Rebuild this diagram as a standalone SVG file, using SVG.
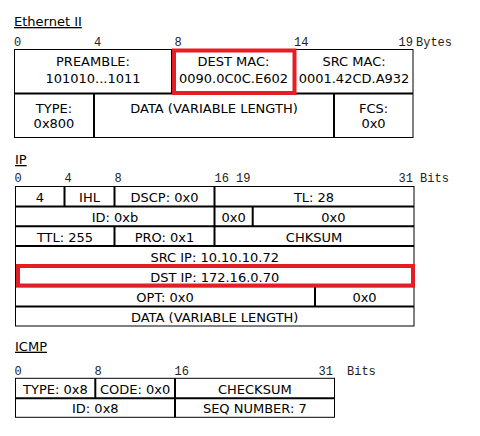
<svg xmlns="http://www.w3.org/2000/svg" width="480" height="436" viewBox="0 0 480 436">
<style>
.t{font-family:"DejaVu Sans","Verdana",sans-serif;font-size:13px;fill:#000;text-anchor:middle}
.h{font-family:"DejaVu Sans","Verdana",sans-serif;font-size:13px;fill:#000;text-decoration:underline}
.k{font-family:"Liberation Mono","Courier New",monospace;font-size:12px;fill:#222}
.box{fill:#fff;stroke:#000;stroke-width:1}
.ln{stroke:#000;stroke-width:2;fill:none}
.hl{fill:none;stroke:#e31e24;stroke-width:4}
</style>
<rect width="480" height="436" fill="#fff"/>

<!-- Ethernet II -->
<text class="h" x="14" y="26">Ethernet II</text>
<g id="eth-ticks">
<text class="k" x="14" y="45.5">0</text>
<text class="k" x="94" y="45.5">4</text>
<text class="k" x="174.5" y="45.5">8</text>
<text class="k" x="294" y="45.5">14</text>
<text class="k" x="398.5" y="45.5">19</text>
<text class="k" x="416" y="45.5">Bytes</text>
</g>
<rect class="box" x="14.5" y="49.5" width="398.5" height="88"/>
<g id="eth-lines">
<line class="ln" x1="14.5" y1="93.5" x2="413" y2="93.5"/>
<line class="ln" x1="172" y1="49.5" x2="172" y2="93.5"/>
<line class="ln" x1="295" y1="49.5" x2="295" y2="93.5"/>
<line class="ln" x1="94" y1="93.5" x2="94" y2="137.5"/>
<line class="ln" x1="334" y1="93.5" x2="334" y2="137.5"/>
</g>
<g id="eth-preamble"><text class="t" x="93" y="66">PREAMBLE:</text><text class="t" x="93" y="83">101010...1011</text></g>
<g id="eth-destmac"><text class="t" x="233.5" y="66">DEST MAC:</text><text class="t" x="233.5" y="83">0090.0C0C.E602</text></g>
<g id="eth-srcmac"><text class="t" x="354" y="66">SRC MAC:</text><text class="t" x="354" y="83">0001.42CD.A932</text></g>
<g id="eth-type"><text class="t" x="54" y="113">TYPE:</text><text class="t" x="54" y="128">0x800</text></g>
<g id="eth-data"><text class="t" x="214" y="113">DATA (VARIABLE LENGTH)</text></g>
<g id="eth-fcs"><text class="t" x="373.5" y="113">FCS:</text><text class="t" x="373.5" y="128">0x0</text></g>
<rect id="hl-destmac" class="hl" x="174" y="50.5" width="120.5" height="42.5"/>

<!-- IP -->
<text class="h" x="15" y="164">IP</text>
<g id="ip-ticks">
<text class="k" x="14.5" y="181.5">0</text>
<text class="k" x="64.5" y="181.5">4</text>
<text class="k" x="114.5" y="181.5">8</text>
<text class="k" x="214.5" y="181.5">16 19</text>
<text class="k" x="398.5" y="181.5">31 Bits</text>
</g>
<rect class="box" x="15.5" y="186.5" width="398.5" height="139.5"/>
<g id="ip-lines">
<line class="ln" x1="15.5" y1="206.5" x2="414" y2="206.5"/>
<line class="ln" x1="15.5" y1="226.2" x2="414" y2="226.2"/>
<line class="ln" x1="15.5" y1="246" x2="414" y2="246"/>
<line class="ln" x1="15.5" y1="266" x2="414" y2="266"/>
<line class="ln" x1="15.5" y1="286.3" x2="414" y2="286.3"/>
<line class="ln" x1="15.5" y1="306.5" x2="414" y2="306.5"/>
<line class="ln" x1="64.5" y1="186.5" x2="64.5" y2="206.5"/>
<line class="ln" x1="114.5" y1="186.5" x2="114.5" y2="206.5"/>
<line class="ln" x1="214.5" y1="186.5" x2="214.5" y2="246"/>
<line class="ln" x1="252.7" y1="206.5" x2="252.7" y2="226.2"/>
<line class="ln" x1="114.5" y1="226.2" x2="114.5" y2="246"/>
<line class="ln" x1="315" y1="286.3" x2="315" y2="306.5"/>
</g>
<g id="ip-ver"><text class="t" x="40" y="202">4</text></g>
<g id="ip-ihl"><text class="t" x="89.5" y="202">IHL</text></g>
<g id="ip-dscp"><text class="t" x="164.5" y="202">DSCP: 0x0</text></g>
<g id="ip-tl"><text class="t" x="314" y="202">TL: 28</text></g>
<g id="ip-id"><text class="t" x="115" y="221.8">ID: 0xb</text></g>
<g id="ip-flags"><text class="t" x="233.6" y="221.8">0x0</text></g>
<g id="ip-frag"><text class="t" x="333.3" y="221.8">0x0</text></g>
<g id="ip-ttl"><text class="t" x="65" y="241.5">TTL: 255</text></g>
<g id="ip-pro"><text class="t" x="164.5" y="241.5">PRO: 0x1</text></g>
<g id="ip-chksum"><text class="t" x="314" y="241.5">CHKSUM</text></g>
<g id="ip-src"><text class="t" x="214.7" y="261.5">SRC IP: 10.10.10.72</text></g>
<g id="ip-dst"><text class="t" x="214.7" y="281.5">DST IP: 172.16.0.70</text></g>
<g id="ip-opt"><text class="t" x="165" y="301.8">OPT: 0x0</text></g>
<g id="ip-pad"><text class="t" x="364.5" y="301.8">0x0</text></g>
<g id="ip-data"><text class="t" x="214.7" y="321.5">DATA (VARIABLE LENGTH)</text></g>
<rect id="hl-dstip" class="hl" x="18" y="266" width="395" height="19.5"/>

<!-- ICMP -->
<text class="h" x="15" y="350.7">ICMP</text>
<g id="icmp-ticks">
<text class="k" x="14.5" y="374.5">0</text>
<text class="k" x="94.5" y="374.5">8</text>
<text class="k" x="174.5" y="374.5">16</text>
<text class="k" x="318.5" y="374.5">31</text>
<text class="k" x="347" y="374.5">Bits</text>
</g>
<rect class="box" x="15.5" y="378.3" width="319" height="39"/>
<g id="icmp-lines">
<line class="ln" x1="15.5" y1="398.3" x2="334.5" y2="398.3"/>
<line class="ln" x1="95.3" y1="378.3" x2="95.3" y2="398.3"/>
<line class="ln" x1="175" y1="378.3" x2="175" y2="417.3"/>
</g>
<g id="icmp-type"><text class="t" x="55.4" y="394">TYPE: 0x8</text></g>
<g id="icmp-code"><text class="t" x="135.2" y="394">CODE: 0x0</text></g>
<g id="icmp-checksum"><text class="t" x="254.8" y="394">CHECKSUM</text></g>
<g id="icmp-id"><text class="t" x="95.3" y="413.3">ID: 0x8</text></g>
<g id="icmp-seq"><text class="t" x="254.8" y="413.3">SEQ NUMBER: 7</text></g>
</svg>
